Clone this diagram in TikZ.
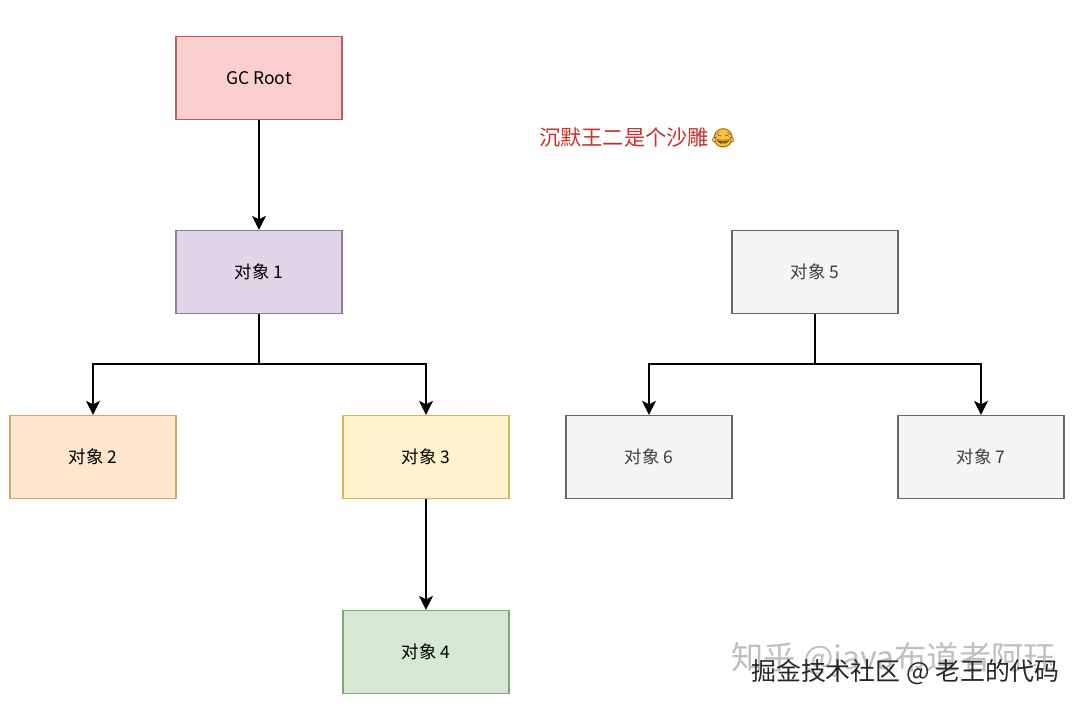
\documentclass[tikz,border=0pt]{standalone}
\usepackage{fontspec}
\setmainfont{Liberation Sans}
\newfontfamily\cjk{Noto Sans CJK SC}
\newfontfamily\emojifont{Noto Emoji}
\definecolor{rootfill}{HTML}{FBCFCF}
\definecolor{rootline}{HTML}{B8605C}
\definecolor{purplefill}{HTML}{E1D5E7}
\definecolor{purpleline}{HTML}{8F7A9E}
\definecolor{orangefill}{HTML}{FFE6CC}
\definecolor{orangeline}{HTML}{D0A860}
\definecolor{yellowfill}{HTML}{FFF2CC}
\definecolor{yellowline}{HTML}{D6B656}
\definecolor{greenfill}{HTML}{D5E8D4}
\definecolor{greenline}{HTML}{82A870}
\definecolor{grayfill}{HTML}{F5F5F5}
\definecolor{grayline}{HTML}{666666}
\definecolor{jokered}{HTML}{C8322B}
\definecolor{emojigold}{HTML}{F6C445}
\definecolor{emojibrown}{HTML}{7A4A10}
\usetikzlibrary{arrows.meta}
\tikzset{
  objbox/.style={rectangle, minimum width=4.15cm, minimum height=2.075cm,
    line width=0.9pt, align=center, inner sep=0pt,
    font=\fontsize{12.4}{14}\selectfont\cjk},
  link/.style={draw=black, line width=0.75pt, -{Stealth[length=10pt,width=10pt,inset=2.5pt]}},
  plainlink/.style={draw=black, line width=0.75pt},
}
\begin{document}
\begin{tikzpicture}
  \useasboundingbox (0,0) rectangle (27,17.65);
  % left tree
  \node[objbox, draw=rootline, fill=rootfill] (root) at (6.475,15.7) {GC Root};
  \node[objbox, draw=purpleline, fill=purplefill] (obj1) at (6.475,10.85) {对象 1};
  \node[objbox, draw=orangeline, fill=orangefill] (obj2) at (2.325,6.225) {对象 2};
  \node[objbox, draw=yellowline, fill=yellowfill] (obj3) at (10.65,6.225) {对象 3};
  \node[objbox, draw=greenline, fill=greenfill] (obj4) at (10.65,1.35) {对象 4};
  % right tree
  \node[objbox, draw=grayline, fill=grayfill, text=black!75] (obj5) at (20.375,10.85) {对象 5};
  \node[objbox, draw=grayline, fill=grayfill, text=black!75] (obj6) at (16.225,6.225) {对象 6};
  \node[objbox, draw=grayline, fill=grayfill, text=black!75] (obj7) at (24.525,6.225) {对象 7};
  \coordinate (split1) at (6.475,8.55);
  \coordinate (split5) at (20.375,8.55);
  \draw[link] (root) -- (obj1);
  \draw[plainlink] (obj1) -- (split1);
  \draw[link] (split1) -| (obj2);
  \draw[link] (split1) -| (obj3);
  \draw[link] (obj3) -- (obj4);
  \draw[plainlink] (obj5) -- (split5);
  \draw[link] (split5) -| (obj6);
  \draw[link] (split5) -| (obj7);
  % labels
  \node[anchor=west, inner sep=0pt, text=jokered, font=\fontsize{15.1}{17}\selectfont\cjk] (joke) at (13.47,14.2) {沉默王二是个沙雕};
  \node[circle, inner sep=-2.5pt, fill=emojigold, text=emojibrown, font=\fontsize{13}{14}\selectfont\emojifont] (emoji) at (18.08,14.2) {😂};
  \node[anchor=east, inner sep=0pt, text=black!25, font=\fontsize{22.9}{25}\selectfont\cjk] (mark1) at (26.4,1.15) {知乎 @java布道者阿珏};
  \node[anchor=east, inner sep=0pt, text=black!85, font=\fontsize{17.7}{20}\selectfont\cjk] (mark2) at (26.5,0.85) {掘金技术社区 @ 老王的代码};
\end{tikzpicture}
\end{document}
